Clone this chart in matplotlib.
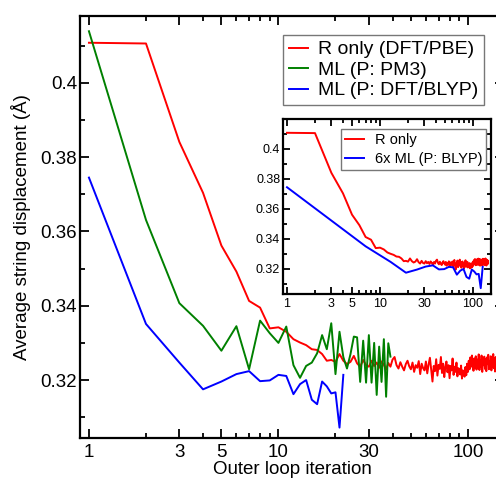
"""String-method convergence: R only vs ML-assisted outer loops."""

import matplotlib

matplotlib.use("Agg")
import matplotlib.pyplot as plt
from matplotlib.ticker import FixedLocator, NullFormatter

plt.rcParams["font.family"] = ["Liberation Sans", "DejaVu Sans"]

# R only (DFT/PBE), iterations 1..145
red_y = [
    0.4108, 0.4106, 0.3841, 0.3704, 0.3562, 0.3492, 0.3413, 0.3395, 0.3339, 0.3342,
    0.3330, 0.3310, 0.3301, 0.3294, 0.3283, 0.3281, 0.3270, 0.3252, 0.3254, 0.3249,
    0.3270, 0.3252, 0.3243, 0.3249, 0.3265, 0.3245, 0.3236, 0.3254, 0.3240, 0.3236,
    0.3252, 0.3238, 0.3247, 0.3233, 0.3250, 0.3241, 0.3228, 0.3246, 0.3236, 0.3255,
    0.3262, 0.3240, 0.3231, 0.3248, 0.3236, 0.3226, 0.3243, 0.3252, 0.3237, 0.3229,
    0.3247, 0.3222, 0.3240, 0.3233, 0.3251, 0.3216, 0.3244, 0.3232, 0.3226, 0.3250,
    0.3218, 0.3242, 0.3260, 0.3229, 0.3196, 0.3238, 0.3224, 0.3256, 0.3212, 0.3241,
    0.3230, 0.3262, 0.3219, 0.3244, 0.3208, 0.3235, 0.3250, 0.3221, 0.3240, 0.3205,
    0.3238, 0.3226, 0.3258, 0.3214, 0.3236, 0.3222, 0.3247, 0.3210, 0.3232, 0.3228,
    0.3215, 0.3239, 0.3204, 0.3226, 0.3218, 0.3209, 0.3235, 0.3213, 0.3244, 0.3222,
    0.3252, 0.3229, 0.3261, 0.3236, 0.3266, 0.3241, 0.3225, 0.3258, 0.3233, 0.3264,
    0.3228, 0.3255, 0.3239, 0.3269, 0.3227, 0.3252, 0.3235, 0.3266, 0.3222, 0.3258,
    0.3240, 0.3263, 0.3230, 0.3256, 0.3224, 0.3261, 0.3243, 0.3268, 0.3229, 0.3250,
    0.3236, 0.3264, 0.3226, 0.3257, 0.3241, 0.3270, 0.3232, 0.3254, 0.3223, 0.3262,
    0.3238, 0.3259, 0.3231, 0.3256, 0.3244,
]

# ML (P: PM3), iterations 1..39
green_y = [
    0.4139, 0.3631, 0.3407, 0.3346, 0.3279, 0.3345, 0.3229, 0.3360, 0.3326, 0.3300,
    0.3344, 0.3240, 0.3206, 0.3238, 0.3247, 0.3272, 0.3321, 0.3283, 0.3353, 0.3216,
    0.3330, 0.3262, 0.3231, 0.3270, 0.3317, 0.3315, 0.3195, 0.3306, 0.3193, 0.3321,
    0.3193, 0.3300, 0.3160, 0.3290, 0.3195, 0.3310, 0.3155, 0.3299, 0.3263,
]

# ML (P: DFT/BLYP), iterations 1..22
blue_y = [
    0.3745, 0.3351, 0.3247, 0.3175, 0.3196, 0.3216, 0.3224, 0.3197, 0.3199, 0.3214,
    0.3211, 0.3162, 0.3189, 0.3200, 0.3147, 0.3135, 0.3196, 0.3183, 0.3164, 0.3167,
    0.3072, 0.3214,
]

red_x = list(range(1, len(red_y) + 1))
green_x = list(range(1, len(green_y) + 1))
blue_x = list(range(1, len(blue_y) + 1))
# inset: each ML outer step costs six reference iterations
blue_x6 = [6 * (i - 1) + 1 for i in blue_x]

labels_main = ["R only (DFT/PBE)", "ML (P: PM3)", "ML (P: DFT/BLYP)"]
labels_inset = ["R only", "6x ML (P: BLYP)"]

x_major = [1, 3, 5, 10, 30, 100]
x_major_labels = ["1", "3", "5", "10", "30", "100"]
x_minor = [2, 4, 6, 7, 8, 9, 20, 40, 50, 60, 70, 80, 90, 200]
y_major = [0.32, 0.34, 0.36, 0.38, 0.40]
y_major_labels = ["0.32", "0.34", "0.36", "0.38", "0.4"]
y_minor = [0.31, 0.33, 0.35, 0.37, 0.39, 0.41]

RED = "#ff0000"
GREEN = "#008000"
BLUE = "#0000ff"


def style_axis(axis, fontsize, major_len, minor_len, xpad, ypad):
    axis.set_xscale("log")
    axis.set_xticks(x_major, x_major_labels)
    axis.xaxis.set_minor_locator(FixedLocator(x_minor))
    axis.xaxis.set_minor_formatter(NullFormatter())
    axis.set_yticks(y_major, y_major_labels)
    axis.yaxis.set_minor_locator(FixedLocator(y_minor))
    axis.tick_params(which="both", direction="in", top=True, right=True,
                     width=1.3, labelsize=fontsize)
    axis.tick_params(axis="x", pad=xpad)
    axis.tick_params(axis="y", pad=ypad)
    axis.tick_params(which="major", length=major_len)
    axis.tick_params(which="minor", length=minor_len)
    for spine in axis.spines.values():
        spine.set_linewidth(1.6)


fig = plt.figure(figsize=(4.96, 4.79), dpi=100)
W, H = 496.0, 479.0

ax = fig.add_axes([80 / W, 41 / H, 424 / W, 422 / H])
ax.plot(red_x, red_y, color=RED, lw=1.4, label=labels_main[0])
ax.plot(green_x, green_y, color=GREEN, lw=1.4, label=labels_main[1])
ax.plot(blue_x, blue_y, color=BLUE, lw=1.4, label=labels_main[2])
ax.set_xlim(0.897, 155)
ax.set_ylim(0.3044, 0.418)
style_axis(ax, 13.5, 6.5, 3.6, 4, 2)
ax.set_xlabel("Outer loop iteration", fontsize=13.5, labelpad=0.5)
ax.set_ylabel("Average string displacement (Å)", fontsize=13.5)
ax.yaxis.set_label_coords(-0.116, 0.5)
leg = ax.legend(loc="upper left", bbox_to_anchor=(283 / W, 1 - 35 / H),
                bbox_transform=fig.transFigure, borderaxespad=0,
                fontsize=14, handlelength=1.0, handletextpad=0.5,
                labelspacing=0.15, borderpad=0.3, fancybox=False,
                framealpha=1)
leg.get_frame().set_edgecolor("#777777")
leg.get_frame().set_linewidth(1.0)

inset = fig.add_axes([283 / W, 185 / H, 208 / W, 175 / H])
inset.plot(red_x, red_y, color=RED, lw=1.4, label=labels_inset[0])
inset.plot(blue_x6, blue_y, color=BLUE, lw=1.4, label=labels_inset[1])
inset.set_xlim(0.906, 156)
inset.set_ylim(0.3033, 0.42)
style_axis(inset, 9, 5, 3, 3, 2)
ileg = inset.legend(loc="upper left", bbox_to_anchor=(341 / W, 1 - 129 / H),
                    bbox_transform=fig.transFigure, borderaxespad=0,
                    fontsize=10.5, handlelength=1.3, handletextpad=0.7,
                    labelspacing=0.3, borderpad=0.3, fancybox=False,
                    framealpha=1)
ileg.get_frame().set_edgecolor("#777777")
ileg.get_frame().set_linewidth(1.0)

fig.savefig("out.png", dpi=100)
